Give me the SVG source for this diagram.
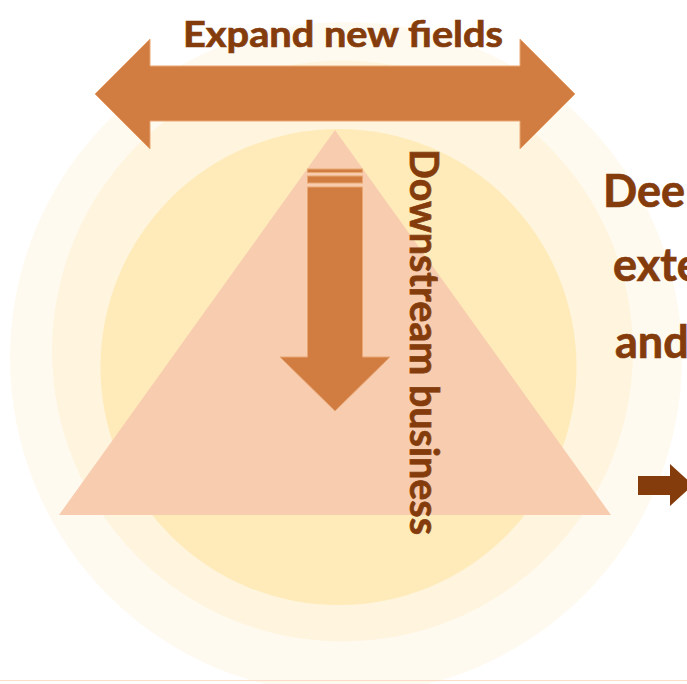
<svg xmlns="http://www.w3.org/2000/svg" width="687" height="684" viewBox="0 0 687 684">
  <style>
    .lbl { font-family: Lato, "Open Sans", "Liberation Sans", sans-serif; font-weight: bold; fill: #843C0C; stroke: #843C0C; stroke-width: 0.7; }
    .orange { fill: #D17C40; stroke: #E9A774; stroke-width: 1; }
  </style>
  <rect width="687" height="684" fill="#FFFFFF"/>

  <!-- concentric backdrop rings -->
  <g id="rings">
    <circle cx="346" cy="358" r="336" fill="#FFFAF0"/>
    <circle cx="342.5" cy="351" r="290.5" fill="#FFF4DE"/>
    <circle cx="338.5" cy="367" r="238" fill="#FFEBB9"/>
  </g>

  <!-- bottom rule -->
  <line x1="0" y1="680.5" x2="687" y2="680.5" stroke="#FBDCC6" stroke-width="1"/>

  <!-- pyramid -->
  <g id="pyramid">
    <polygon points="335,130 611,515 59,515" fill="#F7CCAF"/>
  </g>

  <!-- horizontal double arrow with its label -->
  <g id="expand">
    <polygon class="orange" points="95,94 150,39 150,66 520,66 520,39 575,94 520,149 520,121 150,121 150,149"/>
    <text class="lbl" x="183" y="47" font-size="36" textLength="320" lengthAdjust="spacingAndGlyphs">Expand new fields</text>
  </g>

  <!-- downward arrow with its label -->
  <g id="downstream">
    <rect class="orange" x="307.5" y="169" width="55" height="3.5"/>
    <rect class="orange" x="307.5" y="176" width="55" height="7"/>
    <polygon class="orange" points="307.5,187 362.5,187 362.5,357 390,357 335,411 280,357 307.5,357"/>
    <text class="lbl" transform="translate(410,149) rotate(90)" font-size="40" textLength="386" lengthAdjust="spacingAndGlyphs">Downstream business</text>
  </g>

  <!-- right-hand label, running past the edge -->
  <g id="deepen">
    <text class="lbl" x="603" y="207" font-size="45">Dee</text>
    <text class="lbl" x="613" y="281" font-size="45">exte</text>
    <text class="lbl" x="615" y="358" font-size="45">and</text>
  </g>

  <!-- small arrow at the right edge -->
  <g id="connectors">
    <polygon points="638,476 670,476 670,464 693,485 670,506 670,495 638,495" fill="#843C0C"/>
  </g>
</svg>
